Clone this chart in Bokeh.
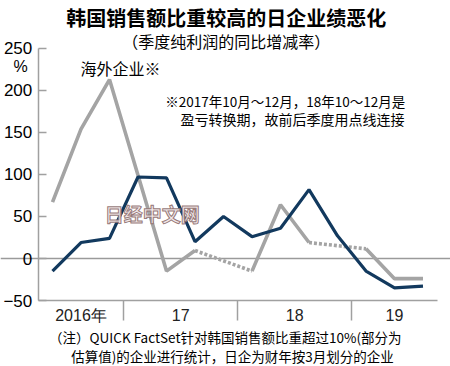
from bokeh.plotting import figure
from bokeh.models import Range1d, FixedTicker, Label
from bokeh.embed import file_html
from bokeh.resources import INLINE
import numpy as np

# Calendar quarters (start month) covered by the chart
quarters = ["2016-04", "2016-07", "2016-10", "2017-01", "2017-04", "2017-07", "2017-10",
            "2018-01", "2018-04", "2018-07", "2018-10", "2019-01", "2019-04", "2019-07"]
# Japanese companies with high Korea sales share (navy)
japan = [-15, 19, 24, 97, 96, 20, 50, 26, 36, 82, 27, -15, -35, -33]
# Overseas companies (gray); None = profit/loss turnaround quarter
overseas = [67, 154, 213, 99, -15, 9.5, None, -15, 64, 19, None, 11.5, -24, -24]

year_labels = ["2016年", "17", "18", "19"]
year_centers = [1, 4.5, 8.5, 12]
year_bounds = [2.5, 6.5, 10.5]
y_ticks = [-50, 0, 50, 100, 150, 200, 250]

CJK = "Noto Sans CJK SC"
NUM = "Liberation Sans"

x = np.arange(len(quarters), dtype=float)
ov = np.array([np.nan if v is None else v for v in overseas], dtype=float)

x0, x1 = -0.5, len(quarters) - 0.5
y0, y1 = y_ticks[0], y_ticks[-1]

# the frame covers the whole canvas; axes are pinned at the data edges
p = figure(width=450, height=366, output_backend="svg", toolbar_location=None,
           x_range=Range1d(-1.8246, 13.965), y_range=Range1d(-128.57, 307.14),
           min_border=0)
p.outline_line_color = None
p.background_fill_color = "white"
p.border_fill_color = "white"
p.xgrid.visible = False

axis_col = "#a0a0a0"
# zero line through the y grid
p.ygrid.ticker = FixedTicker(ticks=[0])
p.ygrid.bounds = (x0, x1)
p.ygrid.grid_line_color = "#9a9a9a"
p.ygrid.grid_line_width = 1.3

# y axis
yax = p.yaxis[0]
yax.fixed_location = x0
yax.bounds = (y0, y1)
yax.ticker = FixedTicker(ticks=y_ticks)
yax.axis_line_color = axis_col
yax.axis_line_width = 1.5
yax.major_tick_in = 8
yax.major_tick_out = 0
yax.major_tick_line_color = axis_col
yax.major_tick_line_width = 1.5
yax.minor_tick_line_color = None
yax.major_label_text_font = NUM
yax.major_label_text_font_size = "17px"
yax.major_label_text_color = "black"
yax.major_label_standoff = 6

# x axis
xax = p.xaxis[0]
xax.fixed_location = y0
xax.bounds = (x0, x1)
xax.ticker = FixedTicker(ticks=year_centers, minor_ticks=year_bounds)
xax.major_label_overrides = {c: l for c, l in zip(year_centers, year_labels)}
xax.axis_line_color = axis_col
xax.axis_line_width = 1.5
xax.major_tick_line_color = None
xax.major_tick_out = 0
xax.major_tick_in = 0
xax.minor_tick_in = 0
xax.minor_tick_out = 20
xax.minor_tick_line_color = axis_col
xax.minor_tick_line_width = 1.5
xax.major_label_text_font = NUM
xax.major_label_text_font_size = "16px"
xax.major_label_text_color = "#222222"
xax.major_label_standoff = -14

gray = "#a4a4a4"
navy = "#12395e"
p.line(x, ov, line_color=gray, line_width=3.6)
# dotted connectors across turnaround quarters
for k in range(1, len(ov) - 1):
    if np.isnan(ov[k]):
        p.line([x[k - 1], x[k + 1]], [ov[k - 1], ov[k + 1]], line_color=gray,
               line_width=3.6, line_dash="3 2")
p.line(x, japan, line_color=navy, line_width=3.2)

def lab(tx, ty, txt, size, font=CJK, align="left", bold=False, color="black", alpha=1.0,
        outline=None):
    kw = {}
    if outline is not None and "text_outline_color" in Label.properties():
        kw["text_outline_color"] = outline
    p.add_layout(Label(x=tx, y=ty, text=txt, text_font=font, text_font_size=size,
                       text_align=align, text_baseline="middle", text_color=color,
                       text_alpha=alpha, text_font_style="bold" if bold else "normal", **kw))

# title & subtitle
lab(6.1, 286.5, "韩国销售额比重较高的日企业绩恶化", "20px", align="center", bold=True)
lab(6.1, 259.5, "（季度纯利润的同比增减率）", "16px", align="center")
# unit
lab(-1.12, 228, "%", "16px", font=NUM, align="center")
# series label
lab(0.98, 227, "海外企业※", "16px")
# note
lab(3.96, 188, "※2017年10月～12月，18年10～12月是", "13.5px")
lab(4.49, 166.5, "盈亏转换期，故前后季度用点线连接", "14px")
# watermark
lab(3.5, 53, "日经中文网", "19px", align="center", bold=True, color="#efe4e4", alpha=0.9,
    outline="#8c6c6c")
# footnote
lab(-0.12, -94, "（注）QUICK FactSet针对韩国销售额比重超过10%(部分为", "13.5px")
lab(0.66, -115.5, "估算值)的企业进行统计，日企为财年按3月划分的企业", "13.5px")

open("out.html", "w").write(file_html(p, INLINE))
